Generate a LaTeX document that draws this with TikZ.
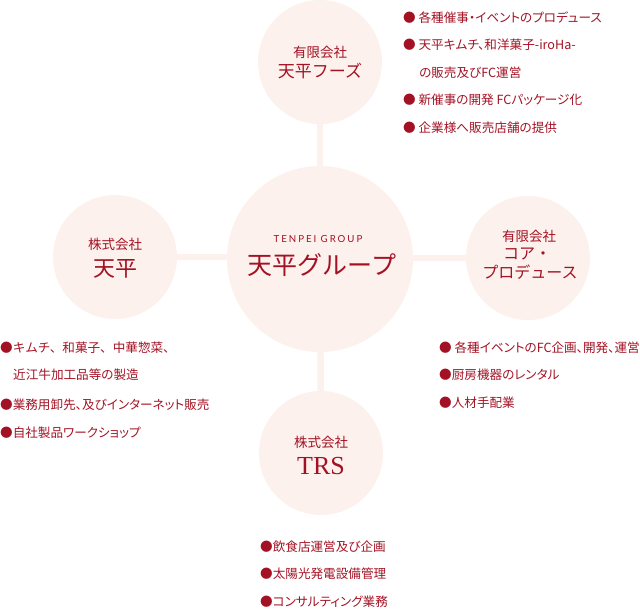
\documentclass[tikz,border=0pt]{standalone}
\usepackage{fontspec}
\usepackage{xcolor}
\usepackage{tikz}
\usetikzlibrary{positioning}
\setmainfont{Noto Sans CJK JP}
\newfontfamily\listfont[RawFeature=+palt]{Noto Sans CJK JP}
\newfontfamily\jpfont{Noto Sans CJK JP}
\newfontfamily\grpfont[LetterSpace=20]{Lato}
\newfontfamily\romfont{Liberation Serif}
\definecolor{Pinkc}{RGB}{252,241,236}
\definecolor{Redc}{RGB}{163,18,36}
\tikzset{
  co/.style={circle,fill=Pinkc,minimum size=124pt,inner sep=0pt},
  grpc/.style={co,minimum size=186pt},
  link/.style={line width=6.5pt,draw=Pinkc},
  kind/.style={inner sep=0pt,text=Redc,font=\fontsize{13.5}{14}\selectfont},
  title/.style={inner sep=0pt,text=Redc},
  item/.style={anchor=west,inner sep=0pt,text=Redc,font=\listfont\fontsize{12.6}{13}\selectfont},
}

\begin{document}
\begin{tikzpicture}[x=1pt,y=-1pt]
  \useasboundingbox (0,0) rectangle (640,608);
  \node[grpc] (grp)    at (320,259) {};
  \node[co]   (foods)  at (320,62)  {};
  \node[co]   (tenpei) at (115,257) {};
  \node[co]   (core)   at (528,258) {};
  \node[co]   (trs)    at (321,453) {};
  \draw[link] (grp) -- (foods);
  \draw[link] (grp) -- (trs);
  \draw[link] (tenpei.east) -- (grp.west |- tenpei.east);
  \draw[link] (grp.east |- core.west) -- (core.west);

  \node[title,font=\grpfont\fontsize{9.7}{10}\selectfont] (grpen) at (318,239) {TENPEI GROUP};
  \node[title,font=\fontsize{25}{26}\selectfont] (grpjp) at (322,265) {天平グループ};
  \node[kind] (foodsk) at (320,52) {有限会社};
  \node[title,font=\fontsize{17}{18}\selectfont] (foodsn) at (320,71) {天平フーズ};
  \node[kind] (tenpeik) at (115,244) {株式会社};
  \node[title,font=\fontsize{22}{23}\selectfont] (tenpein) at (115,269) {天平};
  \node[kind] (corek) at (529,236) {有限会社};
  \node[title,font=\fontsize{16}{17}\selectfont] (coren1) at (527,254) {コア・};
  \node[title,font=\fontsize{16}{17}\selectfont] (coren2) at (530,272) {プロデュース};
  \node[kind] (trsk) at (321,442) {株式会社};
  \node[title,font=\romfont\fontsize{26}{27}\selectfont] (trsn) at (321,466) {TRS};

  \node[item] (f1) at (403,18)  {● 各種催事・イベントのプロデュース};
  \node[item] (f2) at (403,45)  {● 天平キムチ、和洋菓子-iroHa-};
  \node[item] (f3) at (419,73)  {の販売及びFC運営};
  \node[item] (f4) at (403,100) {● 新催事の開発 FCパッケージ化};
  \node[item] (f5) at (403,128) {● 企業様へ販売店舗の提供};

  \node[item,font=\jpfont\fontsize{12.6}{13}\selectfont] (h1) at (0,348) {●キムチ、和菓子、中華惣菜、};
  \node[item] (h2) at (13,375) {近江牛加工品等の製造};
  \node[item] (h3) at (0,405)  {●業務用卸先、及びインターネット販売};
  \node[item] (h4) at (0,433)  {●自社製品ワークショップ};

  \node[item] (c1) at (439,348) {● 各種イベントのFC企画、開発、運営};
  \node[item] (c2) at (439,375) {●厨房機器のレンタル};
  \node[item] (c3) at (439,403) {●人材手配業};

  \node[item] (t1) at (260,547) {●飲食店運営及び企画};
  \node[item] (t2) at (260,574) {●太陽光発電設備管理};
  \node[item] (t3) at (260,602) {●コンサルティング業務};
\end{tikzpicture}
\end{document}
